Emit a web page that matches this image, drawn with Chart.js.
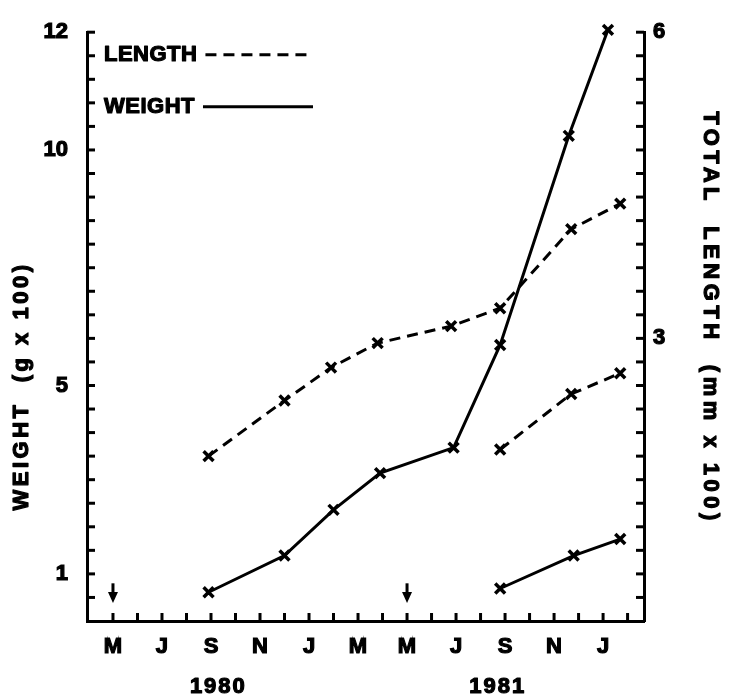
<!DOCTYPE html>
<html>
<head>
<meta charset="utf-8">
<script src="https://cdn.jsdelivr.net/npm/chart.js@4.4.1/dist/chart.umd.min.js"></script>
<style>
    html, body { margin: 0; padding: 0; background: #fff; }
    canvas { display: block; }
</style>
</head>
<body>
<canvas id="growthChart" width="732" height="696"></canvas>
<script>
// months are counted from Jan 1980 = 0
const lengthMonthsA = [7.9, 11.0, 12.9, 14.8, 17.8, 19.8, 22.7, 24.7];
const lengthValuesA = [1.75, 2.34, 2.69, 2.95, 3.13, 3.32, 4.16, 4.43];
const weightMonthsA = [7.9, 11.0, 13.0, 14.9, 17.9, 19.8, 22.6, 24.2];
const weightValuesA = [0.61, 1.39, 2.36, 3.14, 3.68, 5.86, 10.3, 12.55];

const lengthMonthsB = [19.8, 22.7, 24.7];
const lengthValuesB = [1.82, 2.41, 2.63];
const weightMonthsB = [19.8, 22.8, 24.7];
const weightValuesB = [0.69, 1.39, 1.74];

const monthTicks = [4, 5, 6, 7, 8, 9, 10, 11, 12, 13, 14, 15, 16, 17, 18, 19, 20, 21, 22, 23, 24, 25];
const labelMonths = [4, 6, 8, 10, 12, 14, 16, 18, 20, 22, 24];
const monthLetters = ["M", "J", "S", "N", "J", "M", "M", "J", "S", "N", "J"];
const yearLabels = ["1980", "1981"];
const yearMonths = [8.3, 19.7];
const arrowMonths = [4, 16];

const weightLabelValues = [1, 5, 10, 12.5];
const weightLabelTexts = ["1", "5", "10", "12"];
const lengthLabelValues = [3, 6.25];
const lengthLabelTexts = ["3", "6"];

const FONT = "'Liberation Sans', Arial, sans-serif";

const toPoints = (xs, ys) => xs.map((x, i) => ({ x: x, y: ys[i] }));

const seriesStyle = {
    showLine: true,
    borderColor: "#000",
    borderWidth: 3,
    backgroundColor: "#000",
    pointStyle: "crossRot",
    pointRadius: 7,
    pointBorderWidth: 3.5,
    pointBorderColor: "#000",
    tension: 0,
    clip: false
};

const drawLine = (ctx, x1, y1, x2, y2) => {
    ctx.beginPath();
    ctx.moveTo(x1, y1);
    ctx.lineTo(x2, y2);
    ctx.stroke();
};

// heavy lettering: fill plus a thin stroke
const heavyText = (ctx, txt, x, y) => {
    ctx.fillText(txt, x, y);
    ctx.strokeText(txt, x, y);
};

const decorations = {
    id: "decorations",
    afterDraw(chart) {
        const { ctx, chartArea: area, scales } = chart;
        const x = scales.x;
        const yW = scales.yWeight;
        const yL = scales.yLength;
        ctx.save();
        ctx.strokeStyle = "#000";
        ctx.fillStyle = "#000";
        ctx.lineWidth = 3;

        // tick marks point into the plot
        yW.ticks.forEach((t) => {
            if (t.value > 0) {
                const py = yW.getPixelForValue(t.value);
                drawLine(ctx, area.left, py, area.left + 8, py);
            }
        });
        yL.ticks.forEach((t) => {
            if (t.value > 0) {
                const py = yL.getPixelForValue(t.value);
                drawLine(ctx, area.right - 8, py, area.right, py);
            }
        });
        x.ticks.forEach((t) => {
            const px = x.getPixelForValue(t.value);
            drawLine(ctx, px, area.bottom, px, area.bottom - 8);
        });

        // arrows marking the month of spawning
        arrowMonths.forEach((m) => {
            const px = x.getPixelForValue(m);
            const top = yW.getPixelForValue(0.8);
            const tip = yW.getPixelForValue(0.38);
            drawLine(ctx, px, top, px, tip - 6);
            ctx.beginPath();
            ctx.moveTo(px - 5, tip - 11);
            ctx.lineTo(px + 5, tip - 11);
            ctx.lineTo(px, tip);
            ctx.closePath();
            ctx.fill();
        });

        ctx.lineWidth = 1.2;
        ctx.lineJoin = "round";

        // year labels under the month letters
        ctx.font = "bold 22px " + FONT;
        ctx.textAlign = "center";
        ctx.textBaseline = "middle";
        ctx.letterSpacing = "2px";
        yearLabels.forEach((txt, i) => {
            heavyText(ctx, txt, x.getPixelForValue(yearMonths[i]), 687);
        });

        // axis titles
        ctx.letterSpacing = "3.5px";
        ctx.save();
        ctx.translate(22, 386);
        ctx.rotate(-Math.PI / 2);
        heavyText(ctx, "WEIGHT  (g x 100)", 0, 0);
        ctx.restore();

        ctx.letterSpacing = "4.5px";
        ctx.save();
        ctx.translate(710, 318);
        ctx.rotate(Math.PI / 2);
        heavyText(ctx, "TOTAL  LENGTH  (mm x 100)", 0, 0);
        ctx.restore();

        // legend: text followed by a sample of the line
        ctx.letterSpacing = "0.5px";
        ctx.textAlign = "left";
        const entries = [chart.data.datasets[0], chart.data.datasets[2]];
        entries.forEach((ds, i) => {
            const ly = area.top + 22.5 + i * 52;
            const lx = area.left + 17;
            heavyText(ctx, ds.label, lx, ly);
            const start = lx + ctx.measureText(ds.label).width + 8;
            ctx.save();
            ctx.lineWidth = 3;
            ctx.setLineDash(ds.borderDash || []);
            drawLine(ctx, start, ly, area.left + 226, ly);
            ctx.restore();
        });

        ctx.restore();
    }
};

const tickFont = { family: FONT, weight: "bold", size: 22 };
const tickStyle = {
    autoSkip: false,
    color: "#000",
    textStrokeColor: "#000",
    textStrokeWidth: 1.2,
    font: tickFont
};

new Chart(document.getElementById("growthChart"), {
    type: "scatter",
    data: {
        datasets: [
            Object.assign({}, seriesStyle, {
                label: "LENGTH",
                data: toPoints(lengthMonthsA, lengthValuesA),
                yAxisID: "yLength",
                borderDash: [11, 7]
            }),
            Object.assign({}, seriesStyle, {
                label: "LENGTH",
                data: toPoints(lengthMonthsB, lengthValuesB),
                yAxisID: "yLength",
                borderDash: [11, 7]
            }),
            Object.assign({}, seriesStyle, {
                label: "WEIGHT",
                data: toPoints(weightMonthsA, weightValuesA),
                yAxisID: "yWeight"
            }),
            Object.assign({}, seriesStyle, {
                label: "WEIGHT",
                data: toPoints(weightMonthsB, weightValuesB),
                yAxisID: "yWeight"
            })
        ]
    },
    options: {
        responsive: false,
        animation: false,
        events: [],
        layout: { padding: { top: 23, left: 0, right: 0, bottom: 0 } },
        plugins: {
            legend: { display: false },
            tooltip: { enabled: false }
        },
        scales: {
            x: {
                type: "linear",
                min: 2.94,
                max: 25.67,
                grid: { display: false, drawTicks: false },
                border: { display: true, color: "#000", width: 3 },
                afterBuildTicks: (scale) => {
                    scale.ticks = monthTicks.map((v) => ({ value: v }));
                },
                afterFit: (scale) => { scale.height = 75; },
                ticks: Object.assign({}, tickStyle, {
                    maxRotation: 0,
                    padding: 13,
                    callback: (value) => {
                        const i = labelMonths.indexOf(value);
                        return i >= 0 ? monthLetters[i] : "";
                    }
                })
            },
            yWeight: {
                type: "linear",
                position: "left",
                min: 0,
                max: 12.5,
                grid: { display: false, drawTicks: false },
                border: { display: true, color: "#000", width: 3 },
                afterFit: (scale) => { scale.width = 87; },
                ticks: Object.assign({}, tickStyle, {
                    stepSize: 0.5,
                    padding: 19,
                    callback: (value) => {
                        const i = weightLabelValues.indexOf(value);
                        return i >= 0 ? weightLabelTexts[i] : "";
                    }
                })
            },
            yLength: {
                type: "linear",
                position: "right",
                min: 0,
                max: 6.25,
                grid: { display: false, drawTicks: false },
                border: { display: true, color: "#000", width: 3 },
                afterFit: (scale) => { scale.width = 88; },
                ticks: Object.assign({}, tickStyle, {
                    stepSize: 0.25,
                    padding: 9,
                    callback: (value) => {
                        const i = lengthLabelValues.indexOf(value);
                        return i >= 0 ? lengthLabelTexts[i] : "";
                    }
                })
            }
        }
    },
    plugins: [decorations]
});
</script>
</body>
</html>
